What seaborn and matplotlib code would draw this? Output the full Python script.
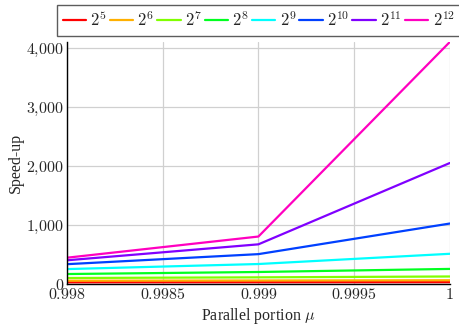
import matplotlib
matplotlib.use("Agg")
import matplotlib.pyplot as plt
import seaborn as sns
import pandas as pd
from matplotlib.ticker import FuncFormatter

# parallel portion values on the x axis
mu = [0.998, 0.999, 1.0]

# speed-up per number of processors
s_2_5 = [30.1, 31.0, 32]
s_2_6 = [56.8, 60.2, 64]
s_2_7 = [102.1, 113.6, 128]
s_2_8 = [169.5, 204.0, 256]
s_2_9 = [253.2, 338.9, 512]
s_2_10 = [336.2, 506.2, 1024]
s_2_11 = [402.0, 672.1, 2048]
s_2_12 = [445.7, 803.9, 4096]

labels = [r"$2^{5}$", r"$2^{6}$", r"$2^{7}$", r"$2^{8}$",
          r"$2^{9}$", r"$2^{10}$", r"$2^{11}$", r"$2^{12}$"]
series = [s_2_5, s_2_6, s_2_7, s_2_8, s_2_9, s_2_10, s_2_11, s_2_12]
colors = ["#ff0000", "#ffb000", "#80ff00", "#00ff20",
          "#00ffff", "#0040ff", "#8000ff", "#ff00c0"]

rows = []
for lab, vals in zip(labels, series):
    for x, y in zip(mu, vals):
        rows.append({"mu": x, "speedup": y, "N": lab})
df = pd.DataFrame(rows)

sns.set_style("white")
plt.rcParams["font.family"] = ["Liberation Serif", "DejaVu Serif"]
plt.rcParams["mathtext.fontset"] = "cm"

fig = plt.figure(figsize=(4.59, 3.33), dpi=100)
ax = fig.add_axes([0.146, 0.147, 0.834, 0.727])

sns.lineplot(data=df, x="mu", y="speedup", hue="N", palette=colors,
             linewidth=1.6, ax=ax, legend=False)

ax.set_xlim(0.998, 1.0)
ax.set_ylim(0, 4096)
ax.set_xticks([0.998, 0.9985, 0.999, 0.9995, 1.0])
ax.set_xticklabels([r"$0.998$", r"$0.9985$", r"$0.999$", r"$0.9995$", r"$1$"])
ax.set_yticks([0, 1000, 2000, 3000, 4000])
ax.yaxis.set_major_formatter(FuncFormatter(lambda v, p: r"$%s$" % "{,}".join(f"{int(v):,}".split(","))))
ax.grid(True, color="#d0d0d0", linewidth=0.9)
ax.set_axisbelow(True)
for side in ["top", "right"]:
    ax.spines[side].set_visible(False)
for side in ["left", "bottom"]:
    ax.spines[side].set_color("black")
    ax.spines[side].set_linewidth(1.0)
ax.tick_params(axis="both", labelsize=11.5, length=0, pad=2)
ax.set_xlabel(r"Parallel portion $\mu$", fontsize=11.5, labelpad=2)
ax.set_ylabel("Speed-up", fontsize=11.5, labelpad=2)

handles = [plt.Line2D([], [], color=c, linewidth=1.6) for c in colors]
leg = fig.legend(handles, labels, loc="upper left", bbox_to_anchor=(0.124, 0.985),
                 ncol=8, frameon=True, fontsize=12, handlelength=1.4,
                 handletextpad=0.25, columnspacing=0.2, borderpad=0.35,
                 borderaxespad=0, fancybox=False)
leg.get_frame().set_edgecolor("#333333")
leg.get_frame().set_linewidth(1.0)

fig.savefig("out.png", dpi=100)
